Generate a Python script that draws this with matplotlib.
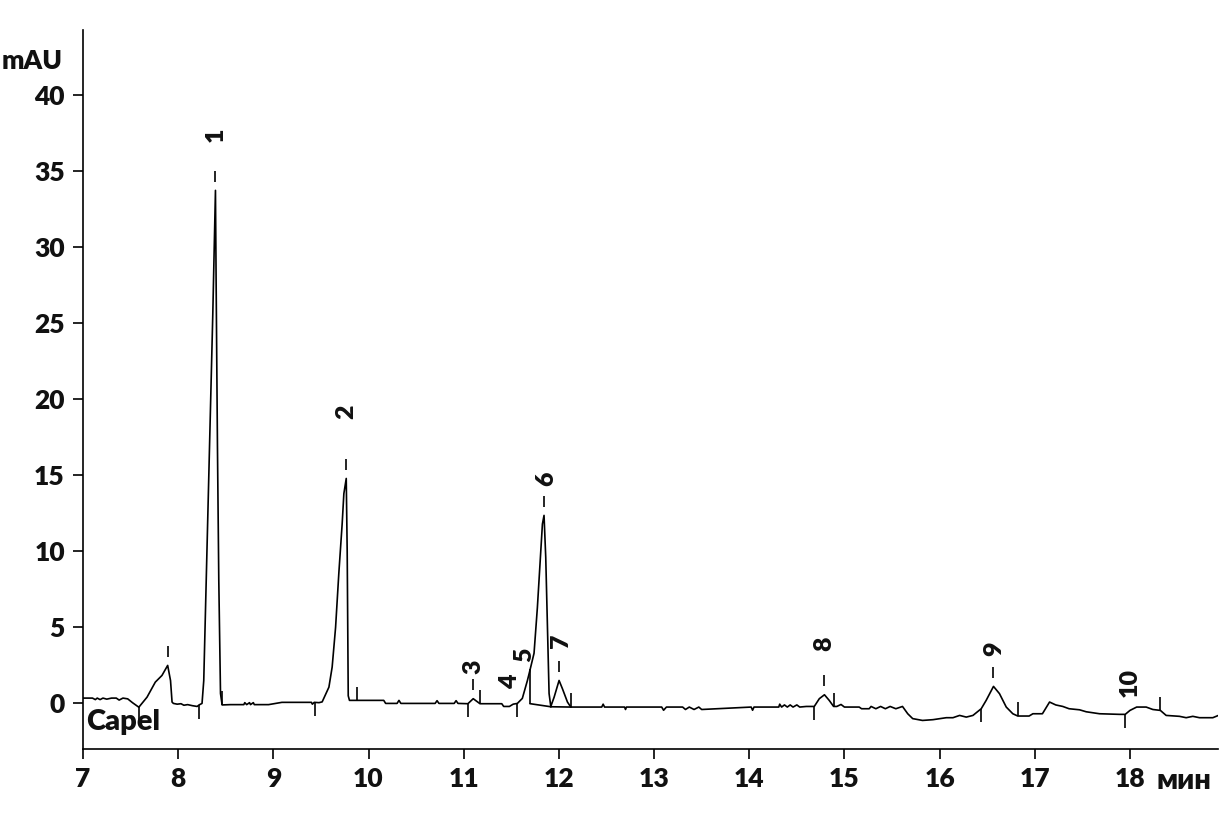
import numpy as np
import matplotlib
matplotlib.use("Agg")
import matplotlib.pyplot as plt

plt.rcParams['font.family'] = ['Lato', 'Open Sans', 'DejaVu Sans']
plt.rcParams['font.weight'] = 'heavy'

# chromatogram trace as (time, min ; absorbance, mAU)
trace = [
    # baseline and small peak before peak 1
    (7.00, 0.35), (7.10, 0.35), (7.13, 0.25), (7.15, 0.35), (7.18, 0.25),
    (7.21, 0.35), (7.25, 0.28), (7.30, 0.35), (7.35, 0.35), (7.38, 0.22),
    (7.42, 0.35), (7.47, 0.30), (7.52, 0.05), (7.587, -0.25), (7.673, 0.41),
    (7.76, 1.40), (7.83, 1.84), (7.89, 2.50), (7.92, 1.50), (7.936, 0.09),
    (7.95, 0.00), (7.99, -0.05), (8.03, -0.02), (8.06, -0.12), (8.10, -0.08),
    (8.15, -0.15), (8.20, -0.20), (8.22, -0.10),
    # peak 1
    (8.251, 0.00), (8.269, 1.50), (8.304, 10.3), (8.340, 19.1), (8.364, 25.6),
    (8.392, 33.75), (8.399, 27.8), (8.413, 16.9), (8.427, 8.10), (8.445, 0.65),
    (8.462, -0.10),
    (8.55, -0.08), (8.69, -0.08), (8.70, 0.05), (8.72, -0.08), (8.75, 0.05),
    (8.76, -0.08), (8.79, 0.05), (8.80, -0.08), (8.95, -0.08), (9.09, 0.07),
    (9.40, 0.07), (9.41, -0.05), (9.43, 0.07), (9.48, 0.05),
    # peak 2
    (9.513, 0.10), (9.584, 1.07), (9.618, 2.39), (9.654, 5.00), (9.688, 8.55),
    (9.723, 11.8), (9.741, 13.8), (9.766, 14.8), (9.776, 10.0), (9.787, 0.50),
    (9.80, 0.20),
    (9.90, 0.20), (10.16, 0.20), (10.18, 0.00), (10.30, 0.00), (10.32, 0.20),
    (10.34, 0.00), (10.70, 0.00), (10.72, 0.18), (10.74, 0.00), (10.90, 0.00),
    (10.92, 0.18), (10.94, 0.00),
    # peak 3
    (11.044, -0.02), (11.10, 0.31), (11.171, -0.02),
    (11.40, -0.02), (11.42, -0.20), (11.48, -0.20), (11.52, -0.05),
    # peaks 4, 5, 6
    (11.564, 0.00), (11.616, 0.33), (11.669, 1.50), (11.687, 1.95),
    (11.739, 3.30), (11.774, 6.30), (11.810, 10.1), (11.827, 11.8),
    (11.844, 12.37), (11.862, 9.60), (11.879, 5.30), (11.897, 0.65),
    (11.915, -0.20),
    # peak 7
    (11.95, 0.41), (12.002, 1.51), (12.037, 0.97), (12.09, 0.09), (12.125, -0.24),
    (12.45, -0.24), (12.465, -0.05), (12.48, -0.24), (12.69, -0.24),
    (12.70, -0.40), (12.71, -0.24), (13.08, -0.24), (13.10, -0.45),
    (13.13, -0.24), (13.30, -0.24), (13.33, -0.40), (13.37, -0.24),
    (13.42, -0.40), (13.47, -0.24), (13.50, -0.40), (14.02, -0.24),
    (14.035, -0.45), (14.05, -0.24), (14.31, -0.24), (14.32, -0.05),
    (14.34, -0.24), (14.37, -0.10), (14.40, -0.24), (14.43, -0.10),
    (14.46, -0.24), (14.50, -0.10), (14.53, -0.24), (14.60, -0.20),
    # peak 8
    (14.683, -0.20), (14.736, 0.31), (14.79, 0.57), (14.84, 0.20),
    (14.886, -0.20),
    (14.92, -0.20), (14.964, -0.07), (15.00, -0.24), (15.155, -0.24),
    (15.18, -0.35), (15.26, -0.35), (15.28, -0.20), (15.33, -0.35),
    (15.38, -0.20), (15.43, -0.35), (15.48, -0.20), (15.54, -0.35),
    (15.61, -0.20), (15.665, -0.68), (15.717, -1.00), (15.82, -1.12),
    (15.93, -1.07), (16.07, -0.94), (16.14, -0.94), (16.21, -0.79),
    (16.28, -0.90), (16.35, -0.79),
    # peak 9
    (16.437, -0.35), (16.489, 0.20), (16.566, 1.12), (16.629, 0.64),
    (16.70, -0.24), (16.769, -0.68), (16.821, -0.83),
    (16.94, -0.83), (16.98, -0.68), (17.08, -0.68), (17.155, 0.09),
    (17.22, -0.10), (17.294, -0.20), (17.36, -0.35), (17.47, -0.42),
    (17.54, -0.55), (17.68, -0.68), (17.89, -0.72),
    # peak 10
    (17.95, -0.72), (18.00, -0.46), (18.07, -0.24), (18.17, -0.24),
    (18.24, -0.40), (18.319, -0.46),
    (18.38, -0.79), (18.52, -0.85), (18.59, -0.94), (18.66, -0.85),
    (18.73, -0.94), (18.87, -0.94), (18.925, -0.80),
]

# integrator marks: peak start (tick down) and peak end (tick up)
start_marks = [7.587, 8.218, 9.437, 11.044, 11.564, 14.683, 16.437, 17.95]
end_marks = [8.462, 9.875, 11.171, 12.131, 14.886, 16.821, 18.319]

# drop line between peaks 5 and 6, and baselines drawn under 6 and 7
drop_time = 11.70
base_6_t = [11.70, 11.915]
base_6_y = [-0.02, -0.22]
base_7_t = [11.915, 12.125]
base_7_y = [-0.22, -0.24]

# peak apex dashes, peak numbers and their label spots
peak_dash_t = [7.89, 8.392, 9.766, 11.10, 11.844, 12.002, 14.79, 16.566]
peak_names = ["1", "2", "3", "4", "5", "6", "7", "8", "9", "10"]
label_t = [8.39, 9.77, 11.10, 11.49, 11.64, 11.865, 12.02, 14.79, 16.57, 18.00]
label_y = [37.4, 19.2, 2.4, 1.4, 3.2, 14.8, 4.1, 3.9, 3.6, 1.4]

time = np.array([p[0] for p in trace])
signal = np.array([p[1] for p in trace])

fig = plt.figure(figsize=(12.2, 8.27), dpi=100)
ax = fig.add_axes([0.068, 0.0943, 0.930, 0.8694])

lw = 1.2
ax.plot(time, signal, color="black", linewidth=lw)
ax.plot(base_6_t, base_6_y, color="black", linewidth=lw)
ax.plot(base_7_t, base_7_y, color="black", linewidth=lw)
ax.vlines(drop_time, base_6_y[0], np.interp(drop_time, time, signal),
          color="black", linewidth=lw)

tick_len = 0.9
for t in start_marks:
    y = np.interp(t, time, signal)
    ax.vlines(t, y - tick_len, y, color="black", linewidth=lw)
for t in end_marks:
    y = np.interp(t, time, signal)
    ax.vlines(t, y, y + tick_len, color="black", linewidth=lw)

for t in peak_dash_t:
    near = (time > t - 0.03) & (time < t + 0.03)
    top = signal[near].max() + 0.55
    ax.vlines(t, top, top + 0.75, color="black", linewidth=lw)

for name, t, y in zip(peak_names, label_t, label_y):
    ax.text(t, y, name, rotation=90, ha="center", va="center",
            fontsize=18, fontweight="heavy", color="#111111")

ax.text(7.03, -1.25, "Capel", ha="left", va="center", fontsize=21,
        fontweight="heavy", color="#111111")

ax.set_xlim(7, 18.92)
ax.set_ylim(-3.0, 44.3)
ax.set_xticks(range(7, 19))
ax.set_yticks(range(0, 41, 5))
ax.spines["top"].set_visible(False)
ax.spines["right"].set_visible(False)
ax.spines["left"].set_linewidth(lw)
ax.spines["bottom"].set_linewidth(lw)
ax.tick_params(direction="out", length=7, width=lw, labelsize=19, pad=6,
               labelcolor="#111111")
for lab in ax.get_xticklabels() + ax.get_yticklabels():
    lab.set_fontweight("heavy")

fig.text(32 / 1220, 1 - 61 / 827, "mAU", ha="center", va="center",
         fontsize=19, fontweight="heavy", color="#111111")
fig.text(1184 / 1220, 1 - 781 / 827, "мин", ha="center", va="center",
         fontsize=21, fontweight="heavy", color="#111111")

fig.savefig("out.png", dpi=100)
